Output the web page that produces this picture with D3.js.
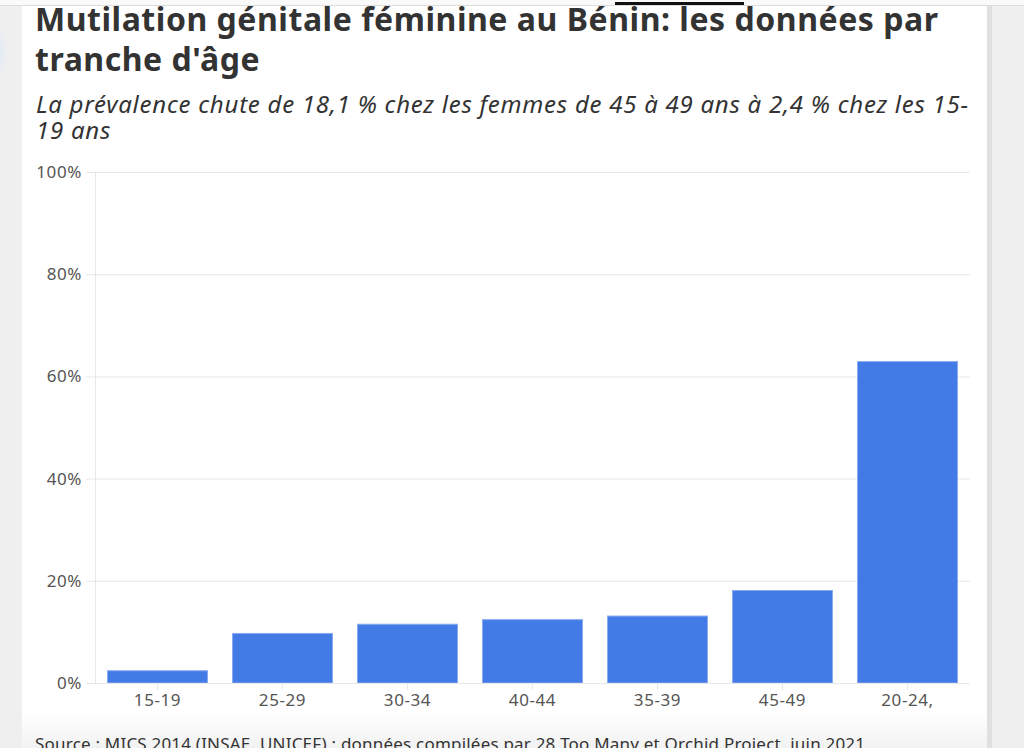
<!DOCTYPE html>
<html>
<head>
<meta charset="utf-8">
<script src="https://cdn.jsdelivr.net/npm/d3@7"></script>
<style>
  html, body { margin: 0; padding: 0; background: #efefef; }
  svg { display: block; }
  .grid line { stroke: #e8e8e8; }
  .axis text { font-family: "Noto Sans", sans-serif; fill: #555; }
</style>
</head>
<body>
<div id="chart"></div>
<script>
// data
var categories = ["15-19", "25-29", "30-34", "40-44", "35-39", "45-49", "20-24,"];
var values = [2.4, 9.7, 11.5, 12.4, 13.1, 18.1, 62.9];
var yTicks = [0, 20, 40, 60, 80, 100];

var titleLines = ["Mutilation génitale féminine au Bénin: les données par", "tranche d'âge"];
var subtitleLines = ["La prévalence chute de 18,1 % chez les femmes de 45 à 49 ans à 2,4 % chez les 15-", "19 ans"];
var sourceText = "Source : MICS 2014 (INSAE, UNICEF) ; données compilées par 28 Too Many et Orchid Project, juin 2021";

var w = 1024;
var h = 748;
var plot = { left: 95, right: 970, top: 172, bottom: 683 };

// spread letters of a text block so its first line is as wide as in the picture
function spread(sel, target) {
	var first = sel.node();
	var len = first.getComputedTextLength();
	var n = first.textContent.length;
	sel.attr("letter-spacing", (target - len) / (n - 1));
}

function drawChart() {
	var svg = d3.select("#chart")
		.append("svg")
		.attr("width", w)
		.attr("height", h);

	// page background / card
	var defs = svg.append("defs");
	var grad = defs.append("linearGradient")
		.attr("id", "fade")
		.attr("x1", 0).attr("y1", 0).attr("x2", 0).attr("y2", 1);
	grad.append("stop").attr("offset", "0%").attr("stop-color", "#ffffff");
	grad.append("stop").attr("offset", "100%").attr("stop-color", "#f2f2f2");

	var blur = defs.append("radialGradient").attr("id", "blob");
	blur.append("stop").attr("offset", "0%").attr("stop-color", "#e3ebf7");
	blur.append("stop").attr("offset", "100%").attr("stop-color", "#efefef");

	svg.append("rect").attr("x", 0).attr("y", 0).attr("width", w).attr("height", h).attr("fill", "#efefef");
	svg.append("ellipse").attr("cx", 0).attr("cy", 52).attr("rx", 8).attr("ry", 26).attr("fill", "url(#blob)");
	svg.append("rect").attr("x", 22).attr("y", 0).attr("width", 965).attr("height", h).attr("fill", "#ffffff");
	svg.append("rect").attr("x", 22).attr("y", 712).attr("width", 965).attr("height", 36).attr("fill", "url(#fade)");
	svg.append("rect").attr("x", 987).attr("y", 5).attr("width", 5).attr("height", h).attr("fill", "#e0e0e0");
	svg.append("rect").attr("x", 0).attr("y", 0).attr("width", w).attr("height", 5).attr("fill", "#fafafa");
	svg.append("rect").attr("x", 0).attr("y", 5).attr("width", w).attr("height", 1).attr("fill", "#dcdcdc");
	svg.append("rect").attr("x", 615).attr("y", 2).attr("width", 129).attr("height", 3).attr("fill", "#111");

	// title & subtitle
	var title = svg.append("g").selectAll("text")
		.data(titleLines)
		.enter().append("text")
		.attr("x", 35)
		.attr("y", function(d, i) { return 31 + i * 40; })
		.attr("font-family", "'Noto Sans', sans-serif")
		.attr("font-weight", "bold")
		.attr("font-size", 32)
		.attr("fill", "#333")
		.text(function(d) { return d; });
	spread(title, 903);

	var subtitle = svg.append("g").selectAll("text")
		.data(subtitleLines)
		.enter().append("text")
		.attr("x", 36)
		.attr("y", function(d, i) { return 113 + i * 26; })
		.attr("font-family", "'Noto Sans', sans-serif")
		.attr("font-style", "italic")
		.attr("font-size", 24)
		.attr("fill", "#333")
		.text(function(d) { return d; });
	spread(subtitle, 932);

	// scales
	var xScale = d3.scaleBand()
		.domain(categories)
		.range([plot.left, plot.right])
		.paddingInner(0.2)
		.paddingOuter(0.1);

	var yScale = d3.scaleLinear()
		.domain([0, 100])
		.range([plot.bottom, plot.top]);

	// gridlines
	svg.append("g")
		.attr("class", "grid")
		.attr("transform", "translate(" + plot.left + ",0)")
		.call(d3.axisLeft(yScale).tickValues(yTicks).tickSize(-(plot.right - plot.left)).tickFormat(""))
		.call(function(g) { g.select(".domain").remove(); });

	// y axis
	var yAxis = svg.append("g")
		.attr("class", "axis")
		.attr("transform", "translate(" + plot.left + ",0)")
		.call(d3.axisLeft(yScale).tickValues(yTicks).tickSize(9).tickPadding(4)
			.tickFormat(function(d) { return d + "%"; }));
	yAxis.select(".domain").attr("stroke", "#e8e8e8").attr("d", "M0.5," + plot.bottom + "V" + plot.top);
	yAxis.selectAll(".tick line").attr("stroke", "#e8e8e8");
	yAxis.selectAll("text").attr("font-size", 17).attr("letter-spacing", 0.6);

	// bars
	svg.append("g").selectAll("rect")
		.data(values)
		.enter().append("rect")
		.attr("x", function(d, i) { return xScale(categories[i]); })
		.attr("y", function(d) { return yScale(d); })
		.attr("width", xScale.bandwidth())
		.attr("height", function(d) { return yScale(0) - yScale(d); })
		.attr("fill", "#437be6")
		.attr("stroke", "#8aaaf0")
		.attr("stroke-width", 1);

	// x axis
	var xAxis = svg.append("g")
		.attr("class", "axis")
		.attr("transform", "translate(0," + plot.bottom + ")")
		.call(d3.axisBottom(xScale).tickSize(7).tickPadding(4));
	xAxis.select(".domain").attr("stroke", "#e8e8e8").attr("d", "M" + plot.left + ",0.5H" + plot.right);
	xAxis.selectAll(".tick line").attr("stroke", "#e8e8e8");
	xAxis.selectAll("text").attr("font-size", 17).attr("letter-spacing", 0.6);

	// source
	var source = svg.append("text")
		.attr("x", 35)
		.attr("y", 750)
		.attr("font-family", "'Noto Sans', sans-serif")
		.attr("font-size", 17)
		.attr("fill", "#333")
		.text(sourceText);
	spread(source, 830);
}

window.onload = drawChart;
</script>
</body>
</html>
